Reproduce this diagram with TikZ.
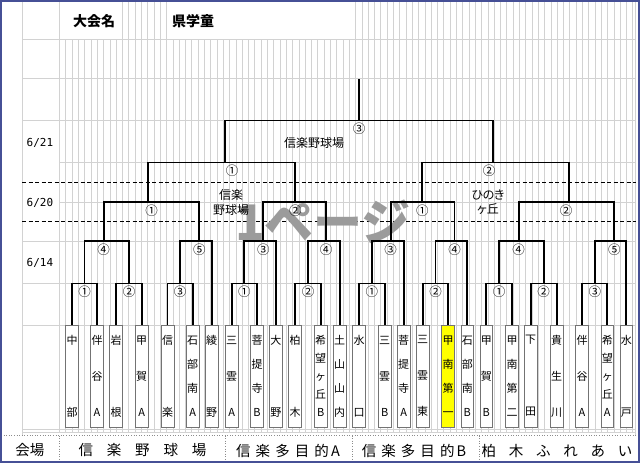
\documentclass[tikz,border=0pt]{standalone}
\usepackage{fontspec}
\setmainfont{Noto Sans CJK JP}
\newfontfamily\datefont{DejaVu Sans Mono}
\newfontfamily\propfont[RawFeature=+palt]{Noto Sans CJK JP}
\usepackage{xcolor}
\definecolor{gridgray}{RGB}{210,210,210}
\definecolor{pageblue}{RGB}{70,80,150}
\definecolor{wmgray}{RGB}{155,155,155}
\definecolor{hiyellow}{RGB}{255,255,0}
\usepackage{tikz}
\usetikzlibrary{positioning}
\tikzset{
	gline/.style   = {gridgray,line width=0.6pt},
	dotline/.style = {black!45,dotted,line width=0.6pt},
	dashrule/.style= {black,dashed,dash pattern=on 4pt off 2.5pt,line width=0.9pt},
	bk/.style      = {black,line width=1.7pt},
	team/.style    = {rectangle,draw=black!55,line width=0.6pt,fill=white,
		minimum width=12.7pt,minimum height=101.7pt,inner sep=0pt,
		anchor=north,align=center,font=\fontsize{11}{72}\selectfont},
	team3/.style   = {team,font=\fontsize{11}{36}\selectfont},
	team4/.style   = {team,font=\fontsize{11}{24}\selectfont},
	team5/.style   = {team,font=\fontsize{11}{18}\selectfont},
	num/.style     = {inner sep=0pt,font=\fontsize{12.5}{14}\selectfont},
	site/.style    = {inner sep=0pt,align=center,font=\fontsize{12}{14.7}\selectfont},
	venue/.style   = {inner sep=0pt,font=\fontsize{14.5}{16}\selectfont},
	date/.style    = {inner sep=0pt,anchor=west,font=\datefont\fontsize{11}{13}\selectfont},
	title/.style   = {inner sep=0pt,font=\bfseries\fontsize{14}{16}\selectfont},
}

\begin{document}
\begin{tikzpicture}[x=1pt,y=-1pt]
	\useasboundingbox (0,0) rectangle (640,463);
	\fill[white] (0,0) rectangle (640,463);
	
	%% sheet grid
	\foreach \k in {0,...,91}
	\draw[gline] ({59.4+6.3*\k},39) -- ({59.4+6.3*\k},432);
	\foreach \k in {0,10,11,...,17}
	\draw[gline] ({59.4+6.3*\k},0) -- ({59.4+6.3*\k},39);
	\foreach \k in {47,...,91}
	\draw[gline] ({59.4+6.3*\k},0) -- ({59.4+6.3*\k},39);
	\draw[gline] (22,0) -- (22,435);
	\draw[gline] (635,0) -- (635,435);
	\foreach \y in {39,78.7,120.7,241,283.5,325,429,432}
	\draw[gline] (22,\y) -- (635,\y);
	\foreach \y in {162.5,202}
	\draw[gline] (59.4,\y) -- (635,\y);
	\draw[dotline] (1,435.5) -- (636,435.5);
	\foreach \x in {59.4,225,352.7,479.3}
	\draw[dotline] (\x,435.5) -- (\x,461);
	
	\draw[dashrule] (22,182.3) -- (636,182.3);
	\draw[dashrule] (22,221.7) -- (636,221.7);
	
	\node (wm) [inner sep=0pt,text=wmgray,font=\bfseries\fontsize{49}{50}\selectfont]
	at (323,222) {1ページ};
	
	%% teams
	\node (t1)  [team]  at (72,325)    {中\\部};
	\node (t2)  [team3] at (97,325)    {伴\\谷\\A};
	\node (t3)  [team]  at (116,325)   {岩\\根};
	\node (t4)  [team3] at (141.7,325) {甲\\賀\\A};
	\node (t5)  [team]  at (167.5,325) {信\\楽};
	\node (t6)  [team4] at (192.7,325) {石\\部\\南\\A};
	\node (t7)  [team]  at (211.7,325) {綾\\野};
	\node (t8)  [team3] at (231.7,325) {三\\雲\\A};
	\node (t9)  [team4] at (257,325)   {菩\\提\\寺\\B};
	\node (t10) [team]  at (275.8,325) {大\\野};
	\node (t11) [team]  at (295,325)   {柏\\木};
	\node (t12) [team5] at (320.7,325) {希\\望\\ヶ\\丘\\B};
	\node (t13) [team4] at (339.7,325) {土\\山\\山\\内};
	\node (t14) [team]  at (359,325)   {水\\口};
	\node (t15) [team3] at (384.7,325) {三\\雲\\B};
	\node (t16) [team4] at (403.7,325) {菩\\提\\寺\\A};
	\node (t17) [team3] at (422.7,325) {三\\雲\\東};
	\node (t18) [team4,fill=hiyellow] at (448,325) {甲\\南\\第\\一};
	\node (t19) [team4] at (467.3,325) {石\\部\\南\\B};
	\node (t20) [team3] at (486.3,325) {甲\\賀\\B};
	\node (t21) [team4] at (512,325)   {甲\\南\\第\\二};
	\node (t22) [team]  at (530.7,325) {下\\田};
	\node (t23) [team3] at (556.7,325) {貴\\生\\川};
	\node (t24) [team3] at (582,325)   {伴\\谷\\A};
	\node (t25) [team5] at (607.3,325) {希\\望\\ヶ\\丘\\A};
	\node (t26) [team]  at (626.3,325) {水\\戸};
	
	%% round 1
	\coordinate (p1)  at (84.5,283.5);
	\coordinate (p2)  at (129,283.5);
	\coordinate (p3)  at (180,283.5);
	\coordinate (p4)  at (244.3,283.5);
	\coordinate (p5)  at (308,283.5);
	\coordinate (p6)  at (371.8,283.5);
	\coordinate (p7)  at (435.5,283.5);
	\coordinate (p8)  at (499.2,283.5);
	\coordinate (p9)  at (543.7,283.5);
	\coordinate (p10) at (594.8,283.5);
	\draw[bk] (t1.north)  |- (p1)  -| (t2.north);
	\draw[bk] (t3.north)  |- (p2)  -| (t4.north);
	\draw[bk] (t5.north)  |- (p3)  -| (t6.north);
	\draw[bk] (t8.north)  |- (p4)  -| (t9.north);
	\draw[bk] (t11.north) |- (p5)  -| (t12.north);
	\draw[bk] (t14.north) |- (p6)  -| (t15.north);
	\draw[bk] (t17.north) |- (p7)  -| (t18.north);
	\draw[bk] (t20.north) |- (p8)  -| (t21.north);
	\draw[bk] (t22.north) |- (p9)  -| (t23.north);
	\draw[bk] (t24.north) |- (p10) -| (t25.north);
	
	%% round 2
	\coordinate (q1) at (103.7,241);
	\coordinate (q2) at (199.3,241);
	\coordinate (q3) at (263.3,241);
	\coordinate (q4) at (326,241);
	\coordinate (q5) at (390.7,241);
	\coordinate (q6) at (454.5,241);
	\coordinate (q7) at (518.7,241);
	\coordinate (q8) at (614.3,241);
	\draw[bk] (p1)  |- (q1) -| (p2);
	\draw[bk] (p3)  |- (q2) -| (t7.north);
	\draw[bk] (p4)  |- (q3) -| (t10.north);
	\draw[bk] (p5)  |- (q4) -| (t13.north);
	\draw[bk] (p6)  |- (q5) -| (t16.north);
	\draw[bk] (p7)  |- (q6) -| (t19.north);
	\draw[bk] (p8)  |- (q7) -| (p9);
	\draw[bk] (p10) |- (q8) -| (t26.north);
	
	%% round 3, 4 and final
	\coordinate (r1) at (148.3,202);
	\coordinate (r2) at (295.3,202);
	\coordinate (r3) at (422.3,202);
	\coordinate (r4) at (569.3,202);
	\draw[bk] (q1) |- (r1) -| (q2);
	\draw[bk] (q3) |- (r2) -| (q4);
	\draw[bk] (q5) |- (r3) -| (q6);
	\draw[bk] (q7) |- (r4) -| (q8);
	\coordinate (s1) at (225,162.5);
	\coordinate (s2) at (492.7,162.5);
	\draw[bk] (r1) |- (s1) -| (r2);
	\draw[bk] (r3) |- (s2) -| (r4);
	\coordinate (fin) at (359,120.5);
	\coordinate (top) at (359,78.7);
	\draw[bk] (s1) |- (fin) -| (s2);
	\draw[bk] (fin) -- (top);
	
	%% game numbers
	\node (n1)  [num,below=2.5pt of p1]  {①};
	\node (n2)  [num,below=2.5pt of p2]  {②};
	\node (n3)  [num,below=2.5pt of p3]  {③};
	\node (n4)  [num,below=2.5pt of p4]  {①};
	\node (n5)  [num,below=2.5pt of p5]  {②};
	\node (n6)  [num,below=2.5pt of p6]  {①};
	\node (n7)  [num,below=2.5pt of p7]  {②};
	\node (n8)  [num,below=2.5pt of p8]  {①};
	\node (n9)  [num,below=2.5pt of p9]  {②};
	\node (n10) [num,below=2.5pt of p10] {③};
	\node (m1) [num,below=2.5pt of q1] {④};
	\node (m2) [num,below=2.5pt of q2] {⑤};
	\node (m3) [num,below=2.5pt of q3] {③};
	\node (m4) [num,below=2.5pt of q4] {④};
	\node (m5) [num,below=2.5pt of q5] {③};
	\node (m6) [num,below=2.5pt of q6] {④};
	\node (m7) [num,below=2.5pt of q7] {④};
	\node (m8) [num,below=2.5pt of q8] {⑤};
	\node (k1) [num,below=2.5pt of r1,xshift=3.4pt]  {①};
	\node (k2) [num,below=2.5pt of r2]               {②};
	\node (k3) [num,below=2.5pt of r3]               {①};
	\node (k4) [num,below=2.5pt of r4,xshift=-3.3pt] {②};
	\node (g1) [num,below=2.5pt of s1,xshift=7pt]    {①};
	\node (g2) [num,below=2.5pt of s2,xshift=-3.7pt] {②};
	\node (g3) [num,below=2pt of fin]                {③};
	
	%% headings, dates, sites
	\node (meet) [title] at (94,20.7)  {大会名};
	\node (cup)  [title] at (193,20.7) {県学童};
	\node (d21) [date] at (26.5,143.3) {6/21};
	\node (d20) [date] at (26.5,203.3) {6/20};
	\node (d14) [date] at (26.5,263.3) {6/14};
	\node (fsite) [site] at (314,143.3) {信楽野球場};
	\node (lsite) [site] at (231,202.3) {信楽\\野球場};
	\node (rsite) [site,font=\propfont\fontsize{12}{14.7}\selectfont]
	at (488,202.3) {ひのき\\ヶ丘};
	
	%% venue row
	\node (kaijo) [venue] at (30,450.5) {会場};
	\node (v1) [venue] at (142.5,450.5)
	{信\hspace{.95em}楽\hspace{.95em}野\hspace{.95em}球\hspace{.95em}場};
	\node (v2) [venue] at (288,450.5)
	{信\hspace{.35em}楽\hspace{.35em}多\hspace{.35em}目\hspace{.35em}的\hspace{.15em}A};
	\node (v3) [venue] at (414,450.5)
	{信\hspace{.35em}楽\hspace{.35em}多\hspace{.35em}目\hspace{.35em}的\hspace{.15em}B};
	\node (v4) [venue] at (557,450.5)
	{柏\hspace{.88em}木\hspace{.88em}ふ\hspace{.88em}れ\hspace{.88em}あ\hspace{.88em}い};
	
	\draw[pageblue,line width=2pt] (1,1) rectangle (639,462);
\end{tikzpicture}
\end{document}
